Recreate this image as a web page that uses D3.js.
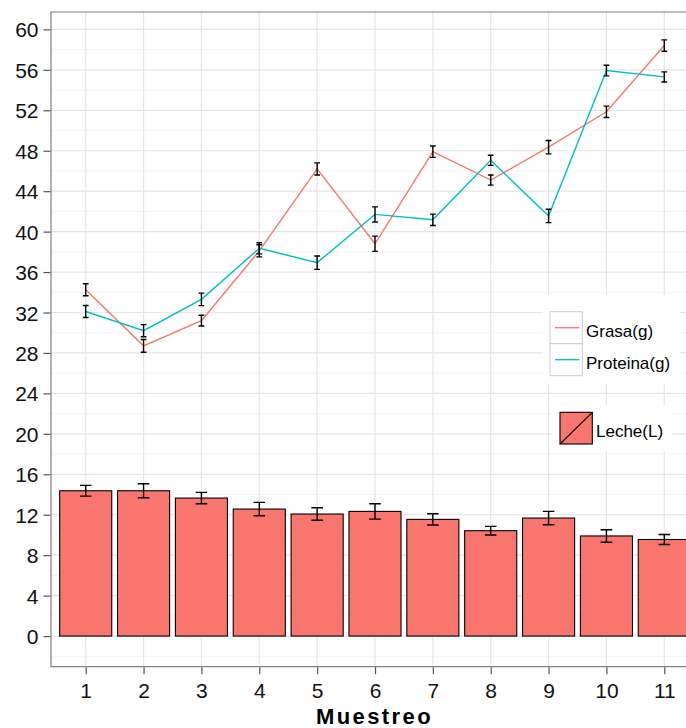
<!DOCTYPE html>
<html>
<head>
<meta charset="utf-8">
<script src="https://cdn.jsdelivr.net/npm/d3@7"></script>
<style>
  body { margin: 0; background: #fff; }
  svg { display: block; font-family: "Liberation Sans", Arial, Helvetica, sans-serif; }
</style>
</head>
<body>
<div id="chart"></div>
<script>
var muestreo = ["1", "2", "3", "4", "5", "6", "7", "8", "9", "10", "11"];
var leche = [14.37, 14.37, 13.65, 12.56, 12.07, 12.33, 11.54, 10.42, 11.67, 9.9, 9.55];
var lecheErr = [0.53, 0.69, 0.56, 0.66, 0.62, 0.76, 0.56, 0.43, 0.66, 0.62, 0.5];
var grasa = [34.25, 28.7, 31.2, 38.1, 46.2, 38.8, 47.9, 45.1, 48.35, 51.85, 58.4];
var grasaErr = [0.6, 0.63, 0.53, 0.6, 0.6, 0.75, 0.56, 0.5, 0.66, 0.56, 0.56];
var proteina = [32.1, 30.2, 33.3, 38.35, 36.93, 41.7, 41.17, 47.05, 41.55, 55.93, 55.3];
var proteinaErr = [0.6, 0.6, 0.62, 0.55, 0.66, 0.75, 0.56, 0.5, 0.66, 0.53, 0.5];
var yTicks = [0, 4, 8, 12, 16, 20, 24, 28, 32, 36, 40, 44, 48, 52, 56, 60];

var w = 686;
var h = 728;
var pLeft = 51, pRight = 699, pTop = 12, pBottom = 666.7;

var svg = d3.select("#chart")
            .append("svg")
            .attr("width", w)
            .attr("height", h);

var x = d3.scalePoint()
          .domain(muestreo)
          .range([pLeft, pRight])
          .padding(0.6);
var step = x.step();

var y = d3.scaleLinear()
          .domain([-3.03, 61.72])
          .range([pBottom, pTop]);

// grid
var minor = d3.range(-2, 61, 4);
svg.append("g").selectAll("line")
    .data(minor).enter().append("line")
    .attr("x1", pLeft).attr("x2", w)
    .attr("y1", function(d) { return y(d); })
    .attr("y2", function(d) { return y(d); })
    .attr("stroke", "#f5f5f5").attr("stroke-width", 1);
svg.append("g").selectAll("line")
    .data(yTicks).enter().append("line")
    .attr("x1", pLeft).attr("x2", w)
    .attr("y1", function(d) { return y(d); })
    .attr("y2", function(d) { return y(d); })
    .attr("stroke", "#e5e5e5").attr("stroke-width", 1.2);
svg.append("g").selectAll("line")
    .data(muestreo).enter().append("line")
    .attr("x1", function(d) { return x(d); })
    .attr("x2", function(d) { return x(d); })
    .attr("y1", pTop).attr("y2", pBottom)
    .attr("stroke", "#e5e5e5").attr("stroke-width", 1.2);

// bars
svg.append("g").selectAll("rect")
    .data(leche).enter().append("rect")
    .attr("x", function(d, i) { return x(muestreo[i]) - step * 0.45; })
    .attr("width", step * 0.9)
    .attr("y", function(d) { return y(d); })
    .attr("height", function(d) { return y(0) - y(d); })
    .attr("fill", "#F8766D")
    .attr("stroke", "#000")
    .attr("stroke-width", 1.1);

function errorbars(vals, errs, half) {
    var g = svg.append("g")
        .attr("stroke", "#000")
        .attr("stroke-width", 1.4)
        .attr("fill", "none");
    var path = "";
    vals.forEach(function(v, i) {
        var cx = x(muestreo[i]);
        var y1 = y(v + errs[i]), y2 = y(v - errs[i]);
        path += "M" + (cx - half) + "," + y1 + "H" + (cx + half) +
                "M" + cx + "," + y1 + "V" + y2 +
                "M" + (cx - half) + "," + y2 + "H" + (cx + half);
    });
    g.append("path").attr("d", path);
}

errorbars(leche, lecheErr, step * 0.1);

var line = d3.line()
    .x(function(d, i) { return x(muestreo[i]); })
    .y(function(d) { return y(d); });

svg.append("path").datum(grasa)
    .attr("d", line).attr("fill", "none")
    .attr("stroke", "#F8766D").attr("stroke-width", 1.4);
svg.append("path").datum(proteina)
    .attr("d", line).attr("fill", "none")
    .attr("stroke", "#00BFC4").attr("stroke-width", 1.4);

errorbars(grasa, grasaErr, step * 0.05);
errorbars(proteina, proteinaErr, step * 0.05);

// panel border
svg.append("path")
    .attr("d", "M" + (w + 2) + "," + pTop + "H" + pLeft + "V" + pBottom + "H" + (w + 2))
    .attr("fill", "none")
    .attr("stroke", "#7f7f7f")
    .attr("stroke-width", 1.2);

// axes
var yAxis = svg.append("g")
    .attr("transform", "translate(" + (pLeft - 0.5) + ",0)")
    .call(d3.axisLeft(y).tickValues(yTicks).tickSize(7).tickPadding(5));
var xAxis = svg.append("g")
    .attr("transform", "translate(0," + (pBottom + 0.5) + ")")
    .call(d3.axisBottom(x).tickSize(7).tickPadding(9));
[yAxis, xAxis].forEach(function(a) {
    a.select(".domain").remove();
    a.selectAll(".tick line").attr("stroke", "#555").attr("stroke-width", 1.2);
    a.selectAll(".tick text")
        .attr("fill", "#111")
        .style("font-size", "21px")
        .style("font-family", "'Liberation Sans', Arial, sans-serif");
});
yAxis.selectAll(".tick text").attr("dy", "0.36em");

svg.append("text")
    .attr("x", 374.5)
    .attr("y", 724)
    .attr("text-anchor", "middle")
    .style("font-size", "22px")
    .style("font-weight", "bold")
    .style("letter-spacing", "2.4px")
    .attr("fill", "#000")
    .text("Muestreo");

// legends
var leg1 = svg.append("g");
leg1.append("rect")
    .attr("x", 543).attr("y", 295).attr("width", 137).attr("height", 89)
    .attr("fill", "#fff");
var legItems = [
    { label: "Grasa(g)", color: "#F8766D" },
    { label: "Proteina(g)", color: "#00BFC4" }
];
legItems.forEach(function(d, i) {
    var ky = 311.7 + i * 32;
    leg1.append("rect")
        .attr("x", 550).attr("y", ky).attr("width", 32.3).attr("height", 32)
        .attr("fill", "#fff").attr("stroke", "#cccccc").attr("stroke-width", 1);
    leg1.append("line")
        .attr("x1", 555).attr("x2", 579.3)
        .attr("y1", ky + 16).attr("y2", ky + 16)
        .attr("stroke", d.color).attr("stroke-width", 1.3);
    leg1.append("text")
        .attr("x", 586).attr("y", ky + 16 + 9.5)
        .style("font-size", "17px")
        .attr("fill", "#000")
        .text(d.label);
});

var leg2 = svg.append("g");
leg2.append("rect")
    .attr("x", 551.7).attr("y", 405).attr("width", 120).attr("height", 46)
    .attr("fill", "#fff");
leg2.append("rect")
    .attr("x", 560).attr("y", 412.3).attr("width", 32.3).attr("height", 31.7)
    .attr("fill", "#F8766D").attr("stroke", "#000").attr("stroke-width", 1.1);
leg2.append("line")
    .attr("x1", 560).attr("y1", 444).attr("x2", 592.3).attr("y2", 412.3)
    .attr("stroke", "#000").attr("stroke-width", 1.1);
leg2.append("text")
    .attr("x", 596).attr("y", 437)
    .style("font-size", "17px")
    .attr("fill", "#000")
    .text("Leche(L)");
</script>
</body>
</html>
